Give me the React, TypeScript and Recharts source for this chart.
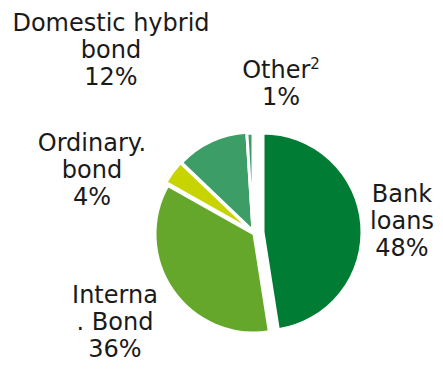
import React from "react";
import { PieChart, Pie, Cell } from "recharts";

const categories = ["Bank loans", "Interna. Bond", "Ordinary. bond", "Domestic hybrid bond", "Other"];
const shares = [48, 36, 4, 12, 1];
const labelLines = [
  ["Bank", "loans"],
  ["Interna", ". Bond"],
  ["Ordinary.", "bond"],
  ["Domestic hybrid", "bond"],
  ["Other"],
];
const superscripts = ["", "", "", "", "2"];

const colors = ["#007c34", "#65a72a", "#c8d400", "#3c9d67", "#3c9d67"];
// explode offsets (style)
const explode = ["translate(8,-1)", "translate(-1,1)", "translate(-3,-2)", "translate(-2,-2)", "translate(-2,-1)"];
// label anchor offsets relative to pie centre (style)
const labelOffsets = [
  { dx: 147, dy: -31 },
  { dx: -140, dy: 70 },
  { dx: -163, dy: -82 },
  { dx: -144, dy: -202 },
  { dx: 26, dy: -155 },
];

const data = categories.map((name, i) => ({ name, value: shares[i] }));

const FONT = "'DejaVu Sans', Verdana, sans-serif";
const LINE_H = 27;

const renderLabel = (props: any) => {
  const { cx, cy, index, value } = props;
  const off = labelOffsets[index];
  const x = cx + off.dx;
  const y = cy + off.dy;
  const lines = labelLines[index];
  return (
    <text
      key={`lbl-${index}`}
      x={x}
      y={y}
      textAnchor="middle"
      fontFamily={FONT}
      fontSize={24}
      fill="#1a1a1a"
    >
      {lines.map((l, j) => (
        <tspan key={j} x={x} dy={j === 0 ? 0 : LINE_H}>
          {l}
          {j === lines.length - 1 && superscripts[index] ? (
            <tspan fontSize={15} dy={-9}>{superscripts[index]}</tspan>
          ) : null}
        </tspan>
      ))}
      <tspan x={x} dy={superscripts[index] ? LINE_H + 9 : LINE_H}>{`${value}%`}</tspan>
    </text>
  );
};

export default function App() {
  return (
    <PieChart width={427} height={355} margin={{ top: 0, right: 0, bottom: 0, left: 0 }}>
      <Pie
        data={data}
        dataKey="value"
        nameKey="name"
        cx={247}
        cy={225}
        outerRadius={99}
        startAngle={90}
        endAngle={-270}
        stroke="#ffffff"
        strokeWidth={3}
        label={renderLabel}
        labelLine={false}
        isAnimationActive={false}
      >
        {data.map((d, i) => (
          <Cell key={d.name} fill={colors[i]} transform={explode[i]} />
        ))}
      </Pie>
    </PieChart>
  );
}
